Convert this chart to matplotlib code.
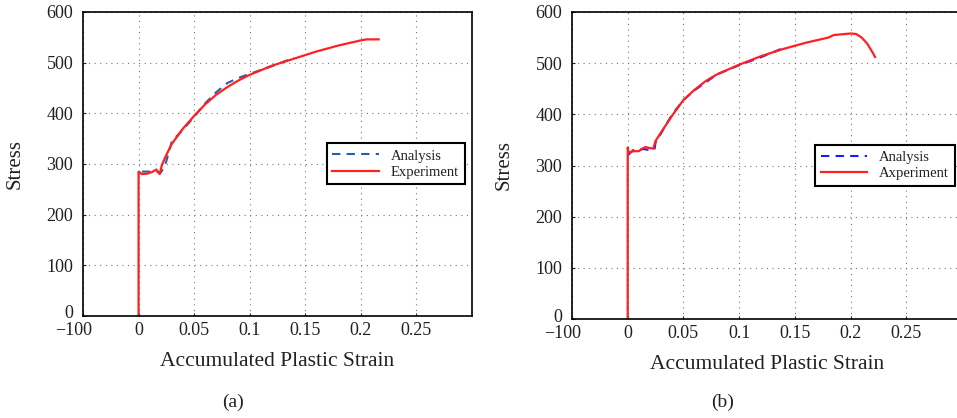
import numpy as np
import matplotlib as mpl
mpl.use("Agg")
import matplotlib.pyplot as plt
from matplotlib.transforms import ScaledTranslation

# --- data -------------------------------------------------------------------
# panel (a)
a_exp_x = [0, 0, 0.003, 0.008, 0.012, 0.016, 0.019, 0.021, 0.025, 0.03, 0.04,
           0.05, 0.06, 0.07, 0.08, 0.09, 0.1, 0.12, 0.14, 0.16, 0.18, 0.2, 0.205, 0.216]
a_exp_y = [0, 285, 280, 281, 284, 289, 280, 298, 318, 340, 370,
           395, 418, 437, 452, 465, 476, 494, 508, 522, 534, 544, 546, 546]
a_ana_x = [0.003, 0.015, 0.02, 0.024, 0.03, 0.04, 0.05, 0.06, 0.07, 0.08, 0.09,
           0.1, 0.12, 0.14]
a_ana_y = [285, 285, 283, 298, 345, 368, 393, 420, 442, 460, 470, 478, 493, 510]

# panel (b)
b_exp_x = [0, 0, 0.001, 0.005, 0.01, 0.013, 0.016, 0.02, 0.023, 0.025, 0.03, 0.04,
           0.05, 0.06, 0.07, 0.08, 0.1, 0.12, 0.14, 0.16, 0.18, 0.185, 0.2, 0.205,
           0.21, 0.215, 0.22, 0.222]
b_exp_y = [0, 335, 325, 328, 328, 333, 336, 334, 333, 348, 365, 398,
           428, 448, 465, 478, 497, 514, 528, 540, 550, 555, 558, 557,
           550, 538, 520, 512]
b_ana_x = [0, 0.005, 0.015, 0.02, 0.024, 0.025, 0.04, 0.05, 0.06, 0.08, 0.1, 0.12, 0.14]
b_ana_y = [320, 330, 332, 330, 331, 345, 400, 428, 447, 478, 496, 512, 530]

xticks = [-0.05, 0, 0.05, 0.1, 0.15, 0.2, 0.25]
xticklabels = ["\u2212100", "0", "0.05", "0.1", "0.15", "0.2", "0.25"]
yticks = [0, 100, 200, 300, 400, 500, 600]

INK = "#231f20"
mpl.rcParams.update({
    "font.family": ["Liberation Serif", "DejaVu Serif"],
    "font.size": 13,
    "text.color": INK, "axes.labelcolor": INK,
    "xtick.color": INK, "ytick.color": INK,
})

W, H = 957, 418
fig = plt.figure(figsize=(W / 100, H / 100), dpi=100)
axes = [fig.add_axes([83 / W, 1 - 316 / H, 389 / W, 304 / H]),
        fig.add_axes([572 / W, 1 - 319 / H, 390 / W, 307 / H])]

panels = [
    (a_ana_x, a_ana_y, a_exp_x, a_exp_y, "Experiment", "#2b5cb0", "(a)", 233, 25),
    (b_ana_x, b_ana_y, b_exp_x, b_exp_y, "Axperiment", "#1a1aff", "(b)", 723, 514),
]

for ax, (ax_x, ax_y, ex_x, ex_y, exp_lab, blue, cap, cap_x, ylab_x) in zip(axes, panels):
    ax.plot(ax_x, ax_y, "--", color=blue, lw=1.5, label="Analysis", dashes=(4, 3))
    ax.plot(ex_x, ex_y, "-", color="#ff2020", lw=1.6, label=exp_lab)
    ax.set_xlim(-0.05, 0.3)
    ax.set_ylim(0, 600)
    ax.set_xticks(xticks)
    ax.set_xticklabels(xticklabels)
    ax.set_yticks(yticks)
    ax.tick_params(direction="in", length=2, labelsize=13, pad=4)
    ax.tick_params(axis="y", pad=7)
    # nudge the corner labels apart like in the original
    xl = ax.get_xticklabels()[0]
    xl.set_transform(xl.get_transform() + ScaledTranslation(-9 / 100, 0, fig.dpi_scale_trans))
    yl = ax.get_yticklabels()[0]
    yl.set_transform(yl.get_transform() + ScaledTranslation(0, 4 / 100, fig.dpi_scale_trans))
    ax.grid(True, ls=(0, (1, 4)), color="#777777", lw=0.8)
    for s in ax.spines.values():
        s.set_color("black")
        s.set_linewidth(1.2)
    ax.set_ylabel("Stress", fontsize=15)
    bb = ax.get_position()
    ax.yaxis.set_label_coords((ylab_x / W - bb.x0) / bb.width, 0.5)
    ax.set_xlabel("Accumulated Plastic Strain", fontsize=15.5, labelpad=10)
    leg = ax.legend(loc="center right", bbox_to_anchor=(1.0, 0.5), fontsize=10.5,
                    fancybox=False, framealpha=1, edgecolor="black",
                    handlelength=3.2, borderpad=0.4, labelspacing=0.2)
    leg.get_frame().set_linewidth(1.5)
    fig.text(cap_x / W, 1 - 402 / H, cap, ha="center", va="center", fontsize=14)

fig.savefig("out.png", dpi=100)
